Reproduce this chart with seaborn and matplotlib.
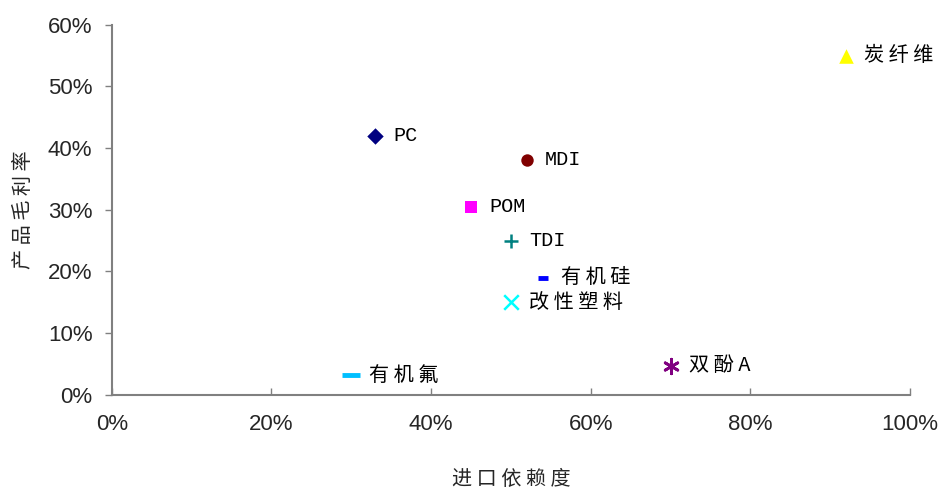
import matplotlib
matplotlib.use("Agg")
import matplotlib.pyplot as plt
import seaborn as sns
import pandas as pd
from matplotlib.ticker import PercentFormatter

products = ["PC", "MDI", "POM", "TDI", "有机硅", "改性塑料", "有机氟", "双酚A", "炭纤维"]
import_dependency = [0.33, 0.52, 0.45, 0.50, 0.54, 0.50, 0.30, 0.70, 0.92]
gross_margin = [0.42, 0.381, 0.305, 0.25, 0.19, 0.15, 0.032, 0.047, 0.55]
x_ticks = [0, 0.2, 0.4, 0.6, 0.8, 1.0]
y_ticks = [0, 0.1, 0.2, 0.3, 0.4, 0.5, 0.6]

labels_shown = ["PC", "MDI", "POM", "TDI", "有 机 硅", "改 性 塑 料", "有 机 氟", "双 酚 A", "炭 纤 维"]
styles = {
    "PC": dict(marker="D", color="#000080", s=70, lw=0),
    "MDI": dict(marker="o", color="#800000", s=80, lw=0),
    "POM": dict(marker="s", color="#FF00FF", s=80, lw=0),
    "TDI": dict(marker="+", color="#008080", s=110, lw=1.8),
    "有机硅": dict(marker="_", color="#0000FF", s=50, lw=3.5),
    "改性塑料": dict(marker="x", color="#00FFFF", s=110, lw=1.8),
    "有机氟": dict(marker="_", color="#00BFFF", s=160, lw=3.5),
    "双酚A": dict(marker=(6, 2, 0), color="#800080", s=110, lw=2),
    "炭纤维": dict(marker="^", color="#FFFF00", s=110, lw=0),
}

df = pd.DataFrame({"product": products, "dep": import_dependency, "margin": gross_margin})

sns.set_style("white")
plt.rcParams["font.family"] = ["Liberation Sans", "Noto Sans CJK SC"]

fig = plt.figure(figsize=(9.4, 4.96), dpi=100)
ax = fig.add_axes([0.119, 0.204, 0.849, 0.746])

for i, row in df.iterrows():
    st = styles[row["product"]]
    sns.scatterplot(data=df.iloc[[i]], x="dep", y="margin", ax=ax,
                    marker=st["marker"], color=st["color"], s=st["s"],
                    linewidth=st["lw"], edgecolor=st["color"] if st["lw"] == 0 else None,
                    legend=False, zorder=3)
    lab = labels_shown[i]
    fam = ["Liberation Mono"] if all(ord(c) < 128 for c in lab) else ["Noto Sans CJK SC"]
    ax.annotate(lab, (row["dep"], row["margin"]), xytext=(13, 0), textcoords="offset points",
                va="center", ha="left", fontsize=14.5, family=fam, color="#000000")

ax.set_xlim(0, 1.0)
ax.set_ylim(0, 0.6)
ax.set_xticks(x_ticks)
ax.set_yticks(y_ticks)
ax.xaxis.set_major_formatter(PercentFormatter(1.0, decimals=0))
ax.yaxis.set_major_formatter(PercentFormatter(1.0, decimals=0))
for sp in ["top", "right"]:
    ax.spines[sp].set_visible(False)
for sp in ["left", "bottom"]:
    ax.spines[sp].set_color("#808080")
    ax.spines[sp].set_linewidth(1.5)
ax.tick_params(axis="y", direction="out", length=5, width=1, color="#808080", labelsize=16, pad=9)
ax.tick_params(axis="x", direction="in", length=5, width=1, color="#808080", labelsize=16, pad=14)
ax.tick_params(left=True, bottom=True)

ax.set_xlabel("进 口 依 赖 度", family=["Noto Sans CJK SC"], fontsize=14.5, labelpad=24)
ax.set_ylabel("产 品 毛 利 率", family=["Noto Sans CJK SC"], fontsize=14.5, labelpad=10)

fig.savefig("out.png", dpi=100)
